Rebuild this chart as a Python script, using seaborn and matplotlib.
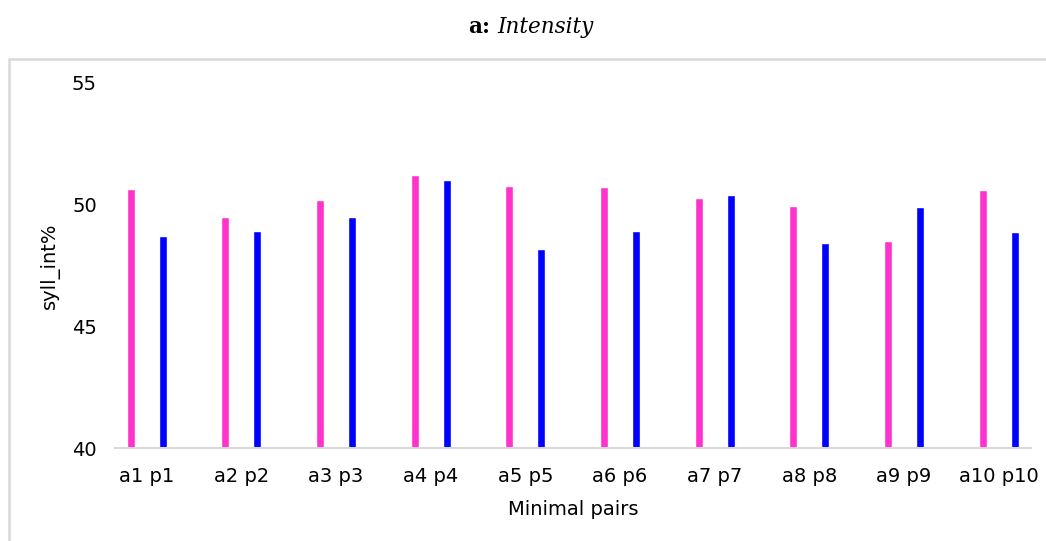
import matplotlib
matplotlib.use("Agg")
import matplotlib.pyplot as plt
import seaborn as sns
import pandas as pd
from matplotlib.patches import Rectangle

pairs = ["a1 p1", "a2 p2", "a3 p3", "a4 p4", "a5 p5",
         "a6 p6", "a7 p7", "a8 p8", "a9 p9", "a10 p10"]
a_values = [50.63, 49.49, 50.18, 51.22, 50.77, 50.73, 50.28, 49.96, 48.52, 50.59]
p_values = [48.70, 48.92, 49.49, 51.00, 48.17, 48.92, 50.41, 48.43, 49.91, 48.88]
series_names = ["a", "p"]
colors = {"a": "#FF33CC", "p": "#0000FF"}

df = pd.DataFrame({
    "pair": pairs * 2,
    "type": [series_names[0]] * len(pairs) + [series_names[1]] * len(pairs),
    "value": a_values + p_values,
})

sns.set_theme(style="white")
plt.rcParams["font.family"] = ["DejaVu Sans"]
plt.rcParams["text.color"] = "#000000"

fig = plt.figure(figsize=(10.46, 5.41), dpi=100)
ax = fig.add_axes([115 / 1046, 1 - 448 / 541, 916 / 1046, 365 / 541])

sns.barplot(data=df, x="pair", y="value", hue="type", palette=colors,
            width=0.676, gap=0.75, ax=ax, legend=False, saturation=1)

ax.set_ylim(40, 55)
ax.set_yticks([40, 45, 50, 55])
ax.set_xlim(-0.333, 9.34)

for s in ["top", "right", "left"]:
    ax.spines[s].set_visible(False)
ax.spines["bottom"].set_color("#D9D9D9")
ax.spines["bottom"].set_linewidth(1.5)

ax.tick_params(axis="both", length=0, labelsize=14, colors="#000000")
ax.tick_params(axis="x", pad=14)
ax.tick_params(axis="y", pad=13)

ax.set_xlabel("Minimal pairs", fontsize=14, color="#000000")
ax.set_ylabel("syll_int%", fontsize=14, color="#000000")
ax.xaxis.set_label_coords(0.5, -0.142)
ax.yaxis.set_label_coords(-0.060, 0.5)

# outer chart-area frame
frame = Rectangle((9 / 1046, -0.05), 1.2, 1 - 59 / 541 + 0.05,
                  transform=fig.transFigure, fill=False,
                  edgecolor="#D9D9D9", linewidth=1.8, zorder=0)
fig.patches.append(frame)

# title: bold "a:" + italic "Intensity"
fig.text(468 / 1046, 1 - 27 / 541, "a:", fontsize=15.5, fontweight="bold",
         family="DejaVu Serif", ha="left", va="center", color="#000000")
fig.text(497 / 1046, 1 - 27 / 541, "Intensity", fontsize=15.5, style="italic",
         family="DejaVu Serif", ha="left", va="center", color="#000000")

fig.savefig("out.png", dpi=100)
